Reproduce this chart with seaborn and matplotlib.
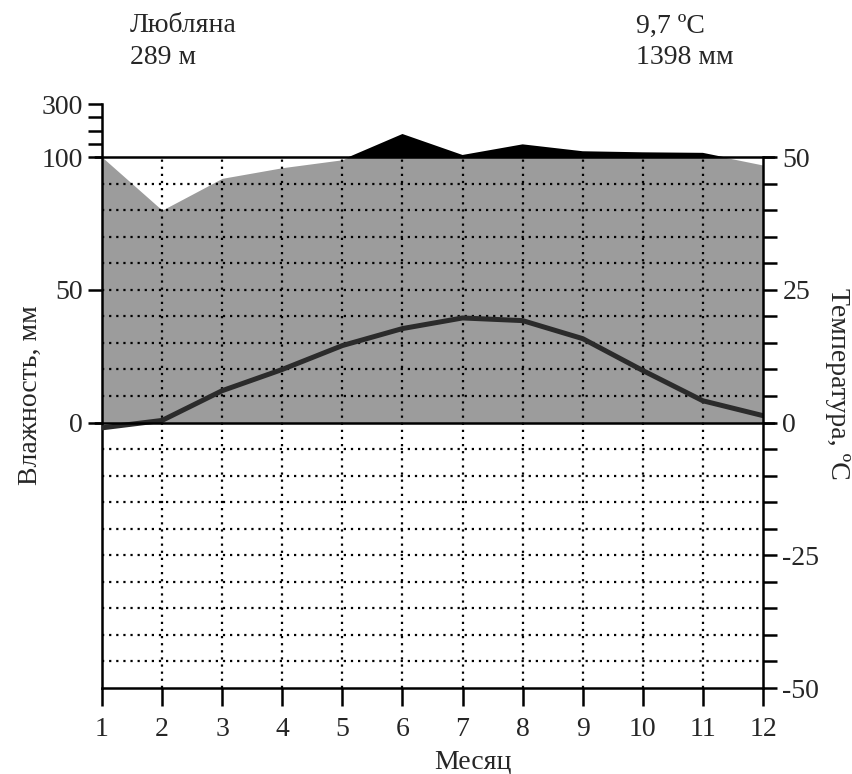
import numpy as np
import pandas as pd
import matplotlib
matplotlib.use("Agg")
import matplotlib.pyplot as plt
from matplotlib.patches import Rectangle
import seaborn as sns

# ---- data ----
months = list(range(1, 13))
precip_mm = [100, 80, 92, 96, 99, 187, 108, 148, 122, 118, 116, 97]
temp_c = [-1.0, 0.4, 6.0, 10.0, 14.5, 17.7, 19.7, 19.2, 15.8, 9.8, 4.1, 1.3]
station = "Любляна"
altitude = "289 м"
mean_temp = "9,7 ºC"
annual_precip = "1398 мм"
left_tick_values = [0, 50, 100, 150, 200, 250, 300]
left_tick_labels = ["0", "50", "100", "", "", "", "300"]
right_tick_values = list(range(-50, 55, 5))
right_tick_labels = [str(v) if v % 25 == 0 else "" for v in right_tick_values]

sns.set_theme(style="white")
plt.rcParams["font.family"] = ["Liberation Serif", "DejaVu Serif"]
plt.rcParams["axes.unicode_minus"] = False


def precip_scale(p):
    p = np.asarray(p, dtype=float)
    return np.where(p > 100, 100 + (p - 100) / 10.0, p)


df = pd.DataFrame({"month": months,
                   "P": precip_scale(precip_mm),
                   "T2": 2 * np.asarray(temp_c)})

W, H = 853, 774
fig = plt.figure(figsize=(W / 100, H / 100), dpi=100)
ax = fig.add_axes([102 / W, 1 - 688 / H, 661 / W, 584 / H])
ax.set_xlim(1, 12)
ax.set_ylim(-100, 120)

FS = 20
# humid area (grey) clipped to 100 mm
grey = ax.fill_between(df["month"], 0, df["P"], color="#9c9c9c", lw=0, zorder=1)
grey.set_clip_path(Rectangle((1, 0), 11, 100, transform=ax.transData))
# above 100 mm (black)
ax.fill_between(df["month"], 100, df["P"], where=df["P"] >= 100,
                interpolate=True, color="black", lw=0, zorder=2)

# dotted grid
dot = (0, (1, 2.2))
for y in range(-90, 100, 10):
    if y == 0:
        continue
    ax.plot([1, 12], [y, y], ls=dot, color="black", lw=1.6, zorder=2.5)
for m in months[1:-1]:
    ax.plot([m, m], [-100, 100], ls=dot, color="black", lw=1.6, zorder=2.5)

# solid lines at 0 and 100
ax.plot([0.88, 12.18], [0, 0], color="black", lw=1.8, clip_on=False, zorder=4)
ax.plot([0.88, 12.18], [100, 100], color="black", lw=1.8, clip_on=False, zorder=4)

# temperature curve
sns.lineplot(data=df, x="month", y="T2", color="#2b2b2b", lw=3.6, ax=ax,
             zorder=3, legend=False)

ax.set_xlabel("")
ax.set_ylabel("")
for s in ["top", "right"]:
    ax.spines[s].set_visible(False)
for s in ["left", "bottom"]:
    ax.spines[s].set_color("black")
    ax.spines[s].set_linewidth(1.8)

ax.set_xticks(months)
ax.set_xticklabels([str(m) for m in months])
ax.set_yticks(precip_scale(left_tick_values))
ax.set_yticklabels(left_tick_labels)
ax.tick_params(axis="x", direction="out", length=13, width=1.8, color="black",
               labelsize=FS, pad=8, bottom=True)
ax.tick_params(axis="y", direction="out", length=10, width=1.8, color="black",
               labelsize=FS, pad=4, left=True)

ax2 = ax.twinx()
ax2.set_ylim(-50, 60)
ax2.set_yticks(right_tick_values)
ax2.set_yticklabels(right_tick_labels)
for s in ["top", "left", "bottom"]:
    ax2.spines[s].set_visible(False)
ax2.spines["right"].set_bounds(-50, 50)
ax2.spines["right"].set_color("black")
ax2.spines["right"].set_linewidth(1.8)
ax2.tick_params(axis="y", direction="out", length=10, width=1.8, color="black",
                labelsize=FS, pad=4, right=True)
ax2.grid(False)
ax.grid(False)

# texts
fig.text(130 / W, 1 - 26 / H, station, fontsize=FS, va="center", ha="left")
fig.text(130 / W, 1 - 57 / H, altitude, fontsize=FS, va="center", ha="left")
fig.text(636 / W, 1 - 26 / H, mean_temp, fontsize=FS, va="center", ha="left")
fig.text(636 / W, 1 - 57 / H, annual_precip, fontsize=FS, va="center", ha="left")
fig.text(473 / W, 1 - 762 / H, "Месяц", fontsize=FS, va="center", ha="center")
fig.text(30 / W, 1 - 395 / H, "Влажность, мм", fontsize=FS, va="center",
         ha="center", rotation=90)
fig.text(838 / W, 1 - 384 / H, "Температура, ºC", fontsize=FS, va="center",
         ha="center", rotation=-90)

fig.savefig("out.png", dpi=100, facecolor="white")
